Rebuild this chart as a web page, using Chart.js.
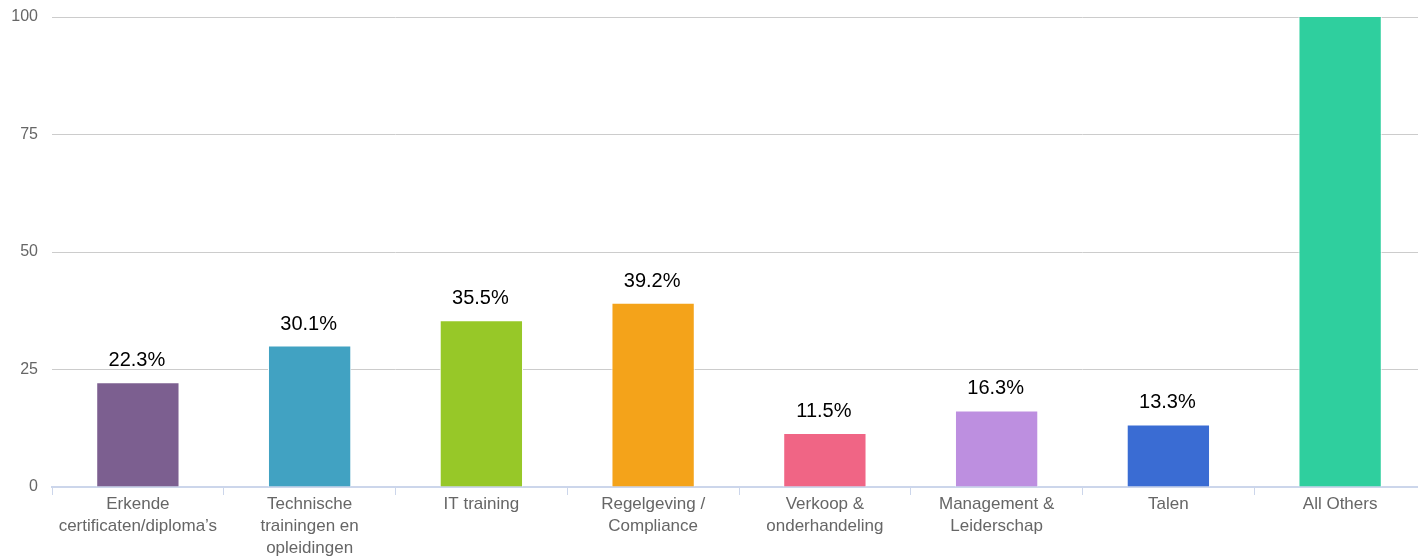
<!DOCTYPE html>
<html>
<head>
<meta charset="utf-8">
<script src="https://cdn.jsdelivr.net/npm/chart.js@4/dist/chart.umd.min.js"></script>
<style>
  html, body { margin: 0; padding: 0; background: #fff; overflow: hidden; }
</style>
</head>
<body>
<canvas id="myChart" width="1426" height="556"></canvas>
<script>
var categories = [
    ['Erkende', 'certificaten/diploma\u2019s'],
    ['Technische', 'trainingen en', 'opleidingen'],
    'IT training',
    ['Regelgeving /', 'Compliance'],
    ['Verkoop &', 'onderhandeling'],
    ['Management &', 'Leiderschap'],
    'Talen',
    'All Others'
];
var values = [22.3, 30.1, 35.5, 39.2, 11.5, 16.3, 13.3, 100.4];
var yTicks = [0, 25, 50, 75, 100];
var barColors = ['#7c5f90', '#41a2c2', '#97c828', '#f4a31a', '#f06585', '#bd8fe0', '#3a6cd3', '#2fcf9e'];

var valueLabels = {
    id: 'valueLabels',
    afterDatasetsDraw: function(chart) {
        var ctx = chart.ctx;
        var meta = chart.getDatasetMeta(0);
        var yScale = chart.scales.y;
        ctx.save();
        ctx.font = '20px "Liberation Sans", Arial, sans-serif';
        ctx.fillStyle = '#000';
        ctx.textAlign = 'center';
        ctx.textBaseline = 'alphabetic';
        meta.data.forEach(function(bar, i) {
            if (values[i] > yScale.max) return;
            ctx.fillText(values[i].toFixed(1) + '%', bar.x - 1, bar.y - 16);
        });
        ctx.restore();
    }
};

var ctx = document.getElementById('myChart').getContext('2d');
var myChart = new Chart(ctx, {
    type: 'bar',
    data: {
        labels: categories,
        datasets: [{
            data: values,
            backgroundColor: barColors,
            borderColor: '#ffffff',
            borderWidth: 1,
            categoryPercentage: 1,
            barPercentage: 0.485
        }]
    },
    options: {
        responsive: false,
        animation: false,
        layout: { padding: { top: 17, right: 0, left: 0, bottom: 0 } },
        plugins: {
            legend: { display: false },
            tooltip: { enabled: false }
        },
        scales: {
            y: {
                min: 0,
                max: 100,
                afterBuildTicks: function(scale) {
                    scale.ticks = yTicks.map(function(v) { return { value: v }; });
                },
                afterFit: function(scale) {
                    scale.width = 52;
                    scale.paddingTop = 0;
                    scale.paddingBottom = 0;
                },
                grid: { color: '#cccccc', drawTicks: false, lineWidth: 1 },
                border: { display: false },
                ticks: {
                    color: '#666666',
                    padding: 14,
                    font: { family: '"Liberation Sans", Arial, sans-serif', size: 16 }
                }
            },
            x: {
                afterFit: function(scale) { scale.height = 69; },
                grid: {
                    offset: true,
                    drawOnChartArea: false,
                    color: '#ccd6eb',
                    tickLength: 8
                },
                border: { color: '#ccd6eb', width: 2 },
                ticks: {
                    color: '#666666',
                    padding: -1,
                    maxRotation: 0,
                    autoSkip: false,
                    font: { family: '"Liberation Sans", Arial, sans-serif', size: 17, lineHeight: 1.27 }
                }
            }
        }
    },
    plugins: [valueLabels]
});
</script>
</body>
</html>
